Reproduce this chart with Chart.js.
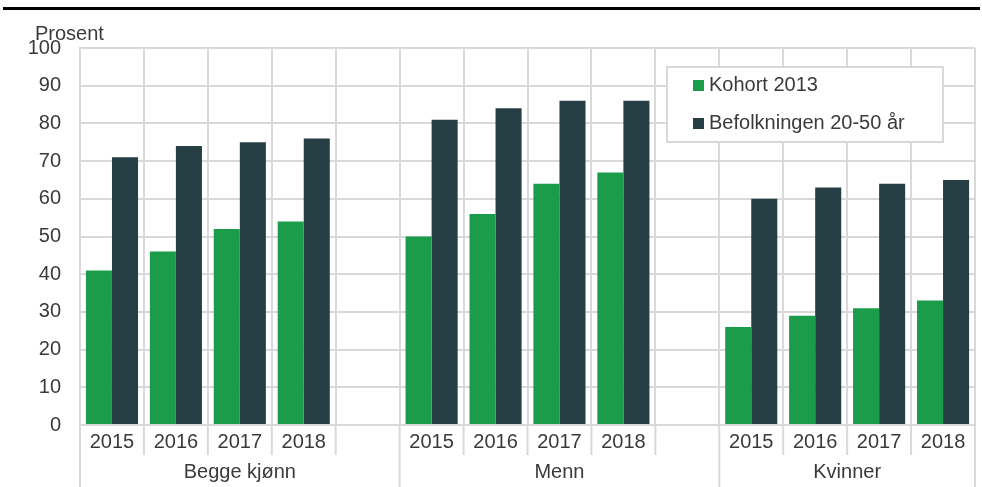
<!DOCTYPE html>
<html><head><meta charset="utf-8">
<script src="https://cdn.jsdelivr.net/npm/chart.js@4.4.0/dist/chart.umd.min.js"></script>
<style>html,body{margin:0;padding:0;background:#fff}#w{width:982px;height:487px;position:relative}</style>
</head><body><div id="w"><canvas id="c"></canvas></div>
<script>
const categories = ['2015','2016','2017','2018','','2015','2016','2017','2018','','2015','2016','2017','2018'];
const groups = ['Begge kjønn','Menn','Kvinner'];
const groupSpans = [5,5,4];
const kohort = [41,46,52,54,null,50,56,64,67,null,26,29,31,33];
const befolkning = [71,74,75,76,null,81,84,86,86,null,60,63,64,65];
const yTicks = [0,10,20,30,40,50,60,70,80,90,100];
const seriesNames = ['Kohort 2013','Befolkningen 20-50 år'];
const colors = ['#1b9c4a','#263f45'];
const FONT = '"Liberation Sans", Arial, sans-serif';
const TXT = '#3a3a3a';
const GRID = '#d9d9d9';

const extras = {
  id:'extras',
  afterDraw(chart){
    const ctx = chart.ctx, x = chart.scales.x, ca = chart.chartArea;
    ctx.save();
    ctx.fillStyle = '#000';
    ctx.fillRect(3,7,977,3);
    ctx.fillStyle = TXT; ctx.font = '20px '+FONT; ctx.textBaseline='alphabetic'; ctx.textAlign='left';
    ctx.fillText('Prosent', 35, 40);
    ctx.strokeStyle = GRID; ctx.lineWidth = 2;
    const half = (x.getPixelForValue(1)-x.getPixelForValue(0))/2;
    const groupEdges = new Set([0]);
    let acc=0; groupSpans.forEach(s=>{acc+=s; groupEdges.add(acc);});
    for(let i=0;i<=categories.length;i++){
      const px = x.getPixelForValue(0) - half + i*2*half;
      const isG = groupEdges.has(i) || i===categories.length;
      ctx.beginPath(); ctx.moveTo(px, ca.bottom); ctx.lineTo(px, isG?487:455); ctx.stroke();
    }
    ctx.font = '20px '+FONT; ctx.textAlign='center'; ctx.textBaseline='middle'; ctx.fillStyle=TXT;
    let start=0;
    groups.forEach((g,gi)=>{
      const l = x.getPixelForValue(start)-half, r = x.getPixelForValue(start+groupSpans[gi]-1)+half;
      ctx.fillText(g,(l+r)/2,472);
      start += groupSpans[gi];
    });
    ctx.fillStyle='#fff'; ctx.fillRect(667,67,276,75);
    ctx.strokeStyle=GRID; ctx.lineWidth=2; ctx.strokeRect(667,67,276,75);
    chart.data.datasets.forEach((d,i)=>{
      const cy = 85 + i*38;
      ctx.fillStyle=d.backgroundColor; ctx.fillRect(693,cy-5,11,11);
      ctx.fillStyle=TXT; ctx.font='20px '+FONT; ctx.textAlign='left'; ctx.textBaseline='middle';
      ctx.fillText(d.label,709,cy);
    });
    ctx.restore();
  }
};

new Chart(document.getElementById('c'),{
  type:'bar',
  data:{labels:categories,datasets:[
    {label:seriesNames[0],data:kohort,backgroundColor:colors[0]},
    {label:seriesNames[1],data:befolkning,backgroundColor:colors[1]}
  ]},
  options:{
    responsive:true,maintainAspectRatio:false,animation:false,
    layout:{padding:{top:48,right:7,left:0,bottom:0}},
    datasets:{bar:{categoryPercentage:0.815,barPercentage:1.0,skipNull:false}},
    plugins:{legend:{display:false},tooltip:{enabled:false},title:{display:false}},
    scales:{
      x:{offset:true,
        grid:{offset:true,color:GRID,lineWidth:2,drawTicks:false},
        border:{color:GRID,width:2},
        ticks:{color:TXT,font:{family:FONT,size:20},padding:5,maxRotation:0,autoSkip:false},
        afterFit(s){s.height=62;}
      },
      y:{min:0,max:100,
        afterBuildTicks(s){s.ticks=yTicks.map(v=>({value:v}));},
        grid:{color:GRID,lineWidth:2,drawTicks:false},
        border:{color:GRID,width:2},
        ticks:{color:TXT,font:{family:FONT,size:20},padding:19},
        afterFit(s){s.width=80;}
      }
    }
  },
  plugins:[extras]
});
</script></body></html>
